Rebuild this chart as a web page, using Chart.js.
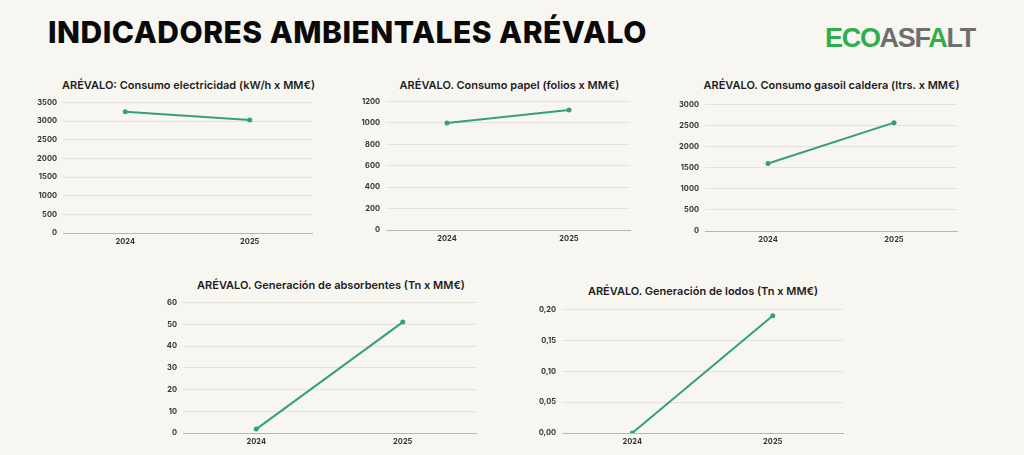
<!DOCTYPE html>
<html lang="es">
<head>
<meta charset="utf-8">
<title>Indicadores ambientales Arévalo</title>
<script src="https://cdn.jsdelivr.net/npm/chart.js@4/dist/chart.umd.min.js"></script>
<style>
    html, body {
        margin: 0;
        padding: 0;
        background: #f8f6f1;
        width: 1024px;
        height: 455px;
        overflow: hidden;
        font-family: Inter, "Open Sans", sans-serif;
    }
    .main_title {
        position: absolute;
        left: 48px;
        top: 14px;
        font-size: 30px;
        font-weight: 800;
        color: #0a0a0a;
        white-space: nowrap;
        letter-spacing: 0.5px;
    }
    .logo {
        position: absolute;
        left: 825px;
        top: 23px;
        font-family: "Liberation Sans", sans-serif;
        font-size: 27px;
        font-weight: 900;
        white-space: nowrap;
        letter-spacing: -1.3px;
    }
    .logo .g { color: #2fae4b; }
    .logo .s { color: #6e6e6e; }
    .chart_title {
        position: absolute;
        transform: translate(-50%, -50%);
        font-size: 11px;
        font-weight: 600;
        color: #1c1c1c;
        white-space: nowrap;
    }
    .chart_box {
        position: absolute;
    }
</style>
</head>
<body>

<div class="main_title">INDICADORES AMBIENTALES ARÉVALO</div>
<div class="logo"><span class="g">ECO</span><span class="s">ASF</span><span class="g">A</span><span class="s">LT</span></div>

<div id="charts"></div>

<script>
// data
const years = ["2024", "2025"];
const electricidad = [3250, 3030];
const papel = [1000, 1120];
const gasoil = [1600, 2570];
const absorbentes = [1.8, 51];
const lodos = [0, 0.19];

const titles = [
    "ARÉVALO: Consumo electricidad (kW/h x MM€)",
    "ARÉVALO. Consumo papel (folios x MM€)",
    "ARÉVALO. Consumo gasoil caldera (ltrs. x MM€)",
    "ARÉVALO. Generación de absorbentes (Tn x MM€)",
    "ARÉVALO. Generación de lodos (Tn x MM€)"
];
const series = [electricidad, papel, gasoil, absorbentes, lodos];
const axisMax = [3500, 1200, 3000, 60, 0.2];
const axisStep = [500, 200, 500, 10, 0.05];
const decimals = [0, 0, 0, 0, 2];

// plot areas: left, right, top, bottom, title center x, title center y
const boxes = [
    [63, 314, 100, 233, 188.5, 85],
    [386, 632, 99, 230, 509.5, 85],
    [705, 959, 102, 231, 831.5, 85],
    [183, 478, 300, 433, 331, 285],
    [562, 845, 307, 433, 703, 291]
];

const GREEN = "#33a07a";
const Y_W = 40;
const X_H = 22;
const PAD_TOP = 8;

const holder = document.getElementById("charts");

series.forEach((values, i) => {
    const [L, R, T, B, tx, ty] = boxes[i];

    const title = document.createElement("div");
    title.className = "chart_title";
    title.style.left = tx + "px";
    title.style.top = ty + "px";
    title.textContent = titles[i];
    holder.appendChild(title);

    const box = document.createElement("div");
    box.className = "chart_box";
    box.style.left = (L - Y_W) + "px";
    box.style.top = (T - PAD_TOP) + "px";
    box.style.width = (R - L + Y_W + 2) + "px";
    box.style.height = (B - T + PAD_TOP + X_H) + "px";
    const canvas = document.createElement("canvas");
    box.appendChild(canvas);
    holder.appendChild(box);

    new Chart(canvas.getContext("2d"), {
        type: "line",
        data: {
            labels: years,
            datasets: [{
                data: values,
                borderColor: GREEN,
                backgroundColor: GREEN,
                borderWidth: 2,
                pointRadius: 2.5,
                pointBorderWidth: 0,
                tension: 0
            }]
        },
        options: {
            responsive: true,
            maintainAspectRatio: false,
            animation: false,
            layout: { padding: { top: PAD_TOP, right: 2, left: 0, bottom: 0 } },
            plugins: {
                legend: { display: false },
                tooltip: { enabled: false }
            },
            scales: {
                x: {
                    offset: true,
                    grid: { display: false, drawTicks: false },
                    border: { color: "#b9b5af", width: 1 },
                    ticks: {
                        color: "#333333",
                        padding: 4,
                        font: { family: "Inter", size: 7.5, weight: "bold" }
                    },
                    afterFit: (scale) => { scale.height = X_H; }
                },
                y: {
                    min: 0,
                    max: axisMax[i],
                    grid: { color: "#e5e1db", drawTicks: false },
                    border: { display: false },
                    ticks: {
                        stepSize: axisStep[i],
                        color: "#333333",
                        padding: 6,
                        font: { family: "Inter", size: 7.5, weight: "bold" },
                        callback: (v) => Number(v).toFixed(decimals[i]).replace(".", ",")
                    },
                    afterFit: (scale) => { scale.width = Y_W; }
                }
            }
        }
    });
});
</script>
</body>
</html>
